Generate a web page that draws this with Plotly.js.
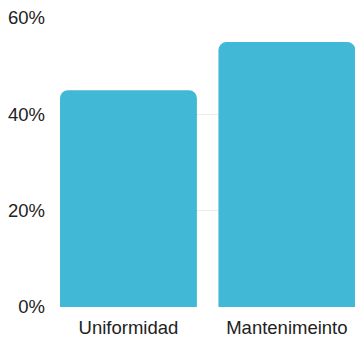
<!DOCTYPE html>
<html>
<head>
<meta charset="utf-8">
<script src="https://cdn.plot.ly/plotly-3.0.1.min.js"></script>
<style>html,body{margin:0;padding:0;background:#fff;}#chart{width:355px;height:337px;}</style>
</head>
<body>
<div id="chart"></div>
<script>
const categories = ["Uniformidad", "Mantenimeinto"];
const values = [45, 55];
const yTicks = [0, 20, 40, 60];
const yTickLabels = ["0%", "20%", "40%", "60%"];

const trace = {
  type: "bar",
  x: categories,
  y: values,
  width: 0.864,
  marker: {color: "#41b8d5", cornerradius: 8},
  hoverinfo: "none"
};

const layout = {
  width: 355,
  height: 337,
  margin: {l: 60, r: 0, t: 18, b: 30},
  paper_bgcolor: "#fff",
  plot_bgcolor: "#fff",
  showlegend: false,
  font: {family: "Liberation Sans, Arial, sans-serif", size: 18.5, color: "#222"},
  xaxis: {
    range: [-0.432, 1.43],
    showgrid: false,
    showline: false,
    zeroline: false,
    ticks: "",
    ticklabelstandoff: 7,
    tickfont: {size: 18.5, color: "#222"}
  },
  yaxis: {
    range: [0, 60],
    tickvals: yTicks,
    ticktext: yTickLabels,
    showgrid: true,
    gridcolor: "#ebebeb",
    gridwidth: 1,
    zeroline: false,
    showline: false,
    ticks: "",
    ticklabelstandoff: 14,
    tickfont: {size: 18.5, color: "#222"}
  }
};

Plotly.newPlot("chart", [trace], layout, {displayModeBar: false, staticPlot: true});
</script>
</body>
</html>
